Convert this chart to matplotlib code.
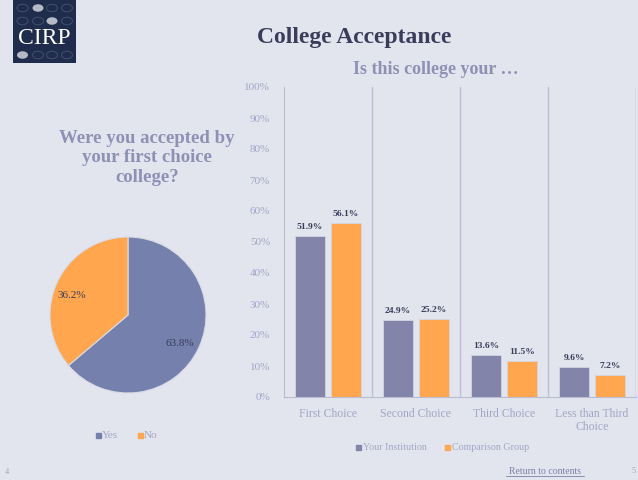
import matplotlib
matplotlib.use("Agg")
import matplotlib.pyplot as plt
from matplotlib.patches import Rectangle, Ellipse
import numpy as np

# ---- data ----
pie_labels = ["Yes", "No"]
pie_values = [63.8, 36.2]

categories = ["First Choice", "Second Choice", "Third Choice", "Less than Third\nChoice"]
your_institution = [51.9, 24.9, 13.6, 9.6]
comparison_group = [56.1, 25.2, 11.5, 7.2]
series_names = ["Your Institution", "Comparison Group"]
y_ticks = [0, 10, 20, 30, 40, 50, 60, 70, 80, 90, 100]

# ---- style ----
BG = "#E2E5ED"
PURPLE_PIE = "#7580AD"
PURPLE_BAR = "#8285A9"
ORANGE = "#FFA64F"
DARK = "#3A3D5A"
LIGHT = "#A3A6C6"
TITLE2 = "#8E91B4"
GRID = "#B9BCD3"
SERIF = ["Liberation Serif", "DejaVu Serif"]

W, H = 638, 480
fig = plt.figure(figsize=(W / 100, H / 100), dpi=100, facecolor=BG)


def px_axes(x0, y0, x1, y1, **kw):
    """Axes from pixel box (top-left origin)."""
    return fig.add_axes([x0 / W, 1 - y1 / H, (x1 - x0) / W, (y1 - y0) / H], **kw)


def fx(x):
    return x / W


def fy(y):
    return 1 - y / H


# ---- logo ----
logo = px_axes(13, 0, 76, 63)
logo.set_xlim(0, 63)
logo.set_ylim(63, 0)
logo.axis("off")
logo.add_patch(Rectangle((0, 0), 63, 63, color="#1F2C4C"))
cols = [9.5, 25, 39, 54]
rows = [(8, 1), (21, 2), (55, 0)]
for yy, filled in rows:
    for i, xx in enumerate(cols):
        if i == filled:
            logo.add_patch(Ellipse((xx, yy), 11, 7.5, facecolor="#B4BAC6", edgecolor="none"))
        else:
            logo.add_patch(Ellipse((xx, yy), 11, 7.5, facecolor="none", edgecolor="#3E4C6C", lw=0.8))
logo.text(31.5, 39, "CIRP", ha="center", va="center", color="white",
          fontsize=17, family=SERIF)

# ---- titles ----
fig.text(fx(354), fy(38), "College Acceptance", ha="center", va="center",
         fontsize=17, fontweight="bold", color=DARK, family=SERIF)
fig.text(fx(436), fy(70), "Is this college your \u2026", ha="center", va="center",
         fontsize=13, fontweight="bold", color=TITLE2, family=SERIF)
fig.text(fx(147), fy(158), "Were you accepted by\nyour first choice\ncollege?", ha="center",
         va="center", fontsize=13.5, fontweight="bold", color=TITLE2, family=SERIF,
         linespacing=1.2)

# ---- pie ----
pax = px_axes(50, 237, 206, 393)
wedges, _ = pax.pie(pie_values, colors=[PURPLE_PIE, ORANGE], startangle=90,
                    counterclock=False,
                    wedgeprops=dict(edgecolor="#D8DBE6", linewidth=0.8))
pax.set_xlim(-1, 1)
pax.set_ylim(-1, 1)
pax.set_aspect("equal")
pax.text(0.67, -0.36, f"{pie_values[0]:.1f}%", ha="center", va="center",
         fontsize=8, color=DARK, family=SERIF)
pax.text(-0.72, 0.25, f"{pie_values[1]:.1f}%", ha="center", va="center",
         fontsize=8, color=DARK, family=SERIF)

# pie legend
for (x, lab, col) in [(96, pie_labels[0], PURPLE_PIE), (138, pie_labels[1], ORANGE)]:
    fig.patches.append(Rectangle((fx(x), fy(438)), 5 / W, 5 / H, color=col,
                                 transform=fig.transFigure, figure=fig))
    fig.text(fx(x + 6), fy(435), lab, ha="left", va="center", fontsize=8,
             color=LIGHT, family=SERIF)

# ---- bars ----
bax = px_axes(284, 87, 636, 397)
bax.set_facecolor("none")
x = np.arange(len(categories))
bw = 0.34
off = 0.205
b1 = bax.bar(x - off, your_institution, bw, color=PURPLE_BAR, edgecolor="#D2D5E2", linewidth=0.6)
b2 = bax.bar(x + off, comparison_group, bw, color=ORANGE, edgecolor="#D2D5E2", linewidth=0.6)
for bars, vals in [(b1, your_institution), (b2, comparison_group)]:
    for r, v in zip(bars, vals):
        bax.text(r.get_x() + r.get_width() / 2, v + 1.6, f"{v:.1f}%", ha="center",
                 va="bottom", fontsize=6.8, fontweight="bold", color=DARK, family=SERIF)

bax.set_xlim(-0.5, len(categories) - 0.5)
bax.set_ylim(0, 100)
bax.set_yticks(y_ticks)
bax.set_yticklabels([f"{t}%" for t in y_ticks], family=SERIF, fontsize=8, color=LIGHT)
bax.set_xticks(x)
bax.set_xticklabels(categories, family=SERIF, fontsize=8.5, color=LIGHT, linespacing=1.15)
bax.tick_params(axis="x", length=0, pad=8)
bax.tick_params(axis="y", length=0, pad=10)
for xs in np.arange(0.5, len(categories), 1.0):
    bax.axvline(xs, color=GRID, lw=0.9)
for s in ["top", "right"]:
    bax.spines[s].set_visible(False)
bax.spines["left"].set_color(GRID)
bax.spines["bottom"].set_color(GRID)
bax.axvline(len(categories) - 0.5, color=GRID, lw=0.9)

# bar legend
for (x0, lab, col) in [(356, series_names[0], PURPLE_BAR), (445, series_names[1], ORANGE)]:
    fig.patches.append(Rectangle((fx(x0), fy(450)), 5 / W, 5 / H, color=col,
                                 transform=fig.transFigure, figure=fig))
    fig.text(fx(x0 + 7), fy(447.5), lab, ha="left", va="center", fontsize=7.2,
             color=LIGHT, family=SERIF)

# ---- footer ----
fig.text(fx(545), fy(471), "Return to contents", ha="center", va="center",
         fontsize=7, color="#7C80A8", family=SERIF)
fig.add_artist(plt.Line2D([fx(506), fx(584)], [fy(476), fy(476)], color="#7C80A8", lw=0.6))
fig.text(fx(5), fy(472), "4", ha="left", va="center", fontsize=6, color=LIGHT, family=SERIF)
fig.text(fx(632), fy(471), "5", ha="left", va="center", fontsize=6, color=LIGHT, family=SERIF)

fig.savefig("out.png", dpi=100, facecolor=BG)
